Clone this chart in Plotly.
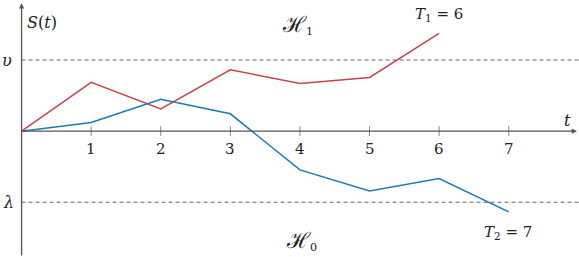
import plotly.graph_objects as go

t_vals = [0, 1, 2, 3, 4, 5, 6, 7]
red_t = [0, 1, 2, 3, 4, 5, 6]
red_s = [0, 0.686, 0.314, 0.863, 0.672, 0.756, 1.376]
blue_t = [0, 1, 2, 3, 4, 5, 6, 7]
blue_s = [0, 0.122, 0.45, 0.244, -0.545, -0.84, -0.666, -1.135]
upsilon = 1.0
lam = -1.0
tick_pos = [1, 2, 3, 4, 5, 6, 7]
tick_labels = ["1", "2", "3", "4", "5", "6", "7"]

X0, X1 = -0.31, 8.01
Y0, Y1 = -1.77, 1.845
FONT = "DejaVu Serif, serif"
AX = "#555555"
RED = "#c6434f"
BLUE = "#1b7bab"

fig = go.Figure()

# dashed thresholds
for yv in (upsilon, lam):
    fig.add_trace(go.Scatter(x=[0, X1], y=[yv, yv], mode="lines",
                             line=dict(color="#666666", width=1.1, dash="4px,3px"),
                             hoverinfo="skip", showlegend=False))

# tick marks
fig.add_trace(go.Scatter(x=tick_pos, y=[0] * len(tick_pos), mode="markers",
                         marker=dict(symbol="line-ns", size=7,
                                     line=dict(color="#888888", width=1)),
                         hoverinfo="skip", showlegend=False))

fig.add_trace(go.Scatter(x=red_t, y=red_s, mode="lines",
                         line=dict(color=RED, width=1.5), showlegend=False))
fig.add_trace(go.Scatter(x=blue_t, y=blue_s, mode="lines",
                         line=dict(color=BLUE, width=1.5), showlegend=False))

annotations = []
# axes with arrows
annotations.append(dict(x=7.98, y=0, ax=0, ay=0, xref="x", yref="y", axref="x", ayref="y",
                        showarrow=True, arrowhead=2, arrowsize=0.8, arrowwidth=1.3,
                        arrowcolor=AX, text=""))
annotations.append(dict(x=0, y=1.8, ax=0, ay=Y0, xref="x", yref="y", axref="x", ayref="y",
                        showarrow=True, arrowhead=2, arrowsize=0.8, arrowwidth=1.3,
                        arrowcolor=AX, text=""))
for p, lab in zip(tick_pos, tick_labels):
    annotations.append(dict(x=p, y=0, xref="x", yref="y", text=lab, showarrow=False,
                            yanchor="top", yshift=-7,
                            font=dict(family=FONT, size=15, color="#222222")))

def lab(x, y, text, size=16):
    annotations.append(dict(x=x, y=y, xref="x", yref="y", text=text, showarrow=False,
                            font=dict(family=FONT, size=size, color="#222222")))

lab(0.30, 1.53, "<i>S</i>(<i>t</i>)")
lab(-0.215, upsilon, "<i>υ</i>")
lab(-0.195, lam, "<i>λ</i>")
lab(7.85, 0.15, "<i>t</i>")
lab(3.97, 1.49, "<span style='font-size:22px'>ℋ</span><sub>1</sub>")
lab(4.02, -1.55, "<span style='font-size:22px'>ℋ</span><sub>0</sub>")
lab(6.0, 1.64, "<i>T</i><sub>1</sub> = 6", size=15)
lab(6.99, -1.42, "<i>T</i><sub>2</sub> = 7", size=15)

fig.update_layout(
    width=579, height=257, margin=dict(l=0, r=0, t=0, b=0),
    paper_bgcolor="white", plot_bgcolor="white",
    xaxis=dict(range=[X0, X1], visible=False),
    yaxis=dict(range=[Y0, Y1], visible=False),
    annotations=annotations,
)

fig.write_html("out.html")
